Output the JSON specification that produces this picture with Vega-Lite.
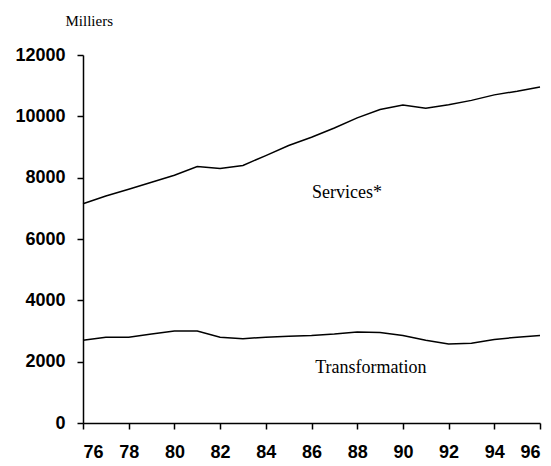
{
  "$schema": "https://vega.github.io/schema/vega-lite/v6.json",
  "width": 457,
  "height": 368,
  "autosize": "none",
  "padding": {"left": 83, "top": 55, "right": 11, "bottom": 43},
  "background": "white",
  "config": {"view": {"stroke": null}},
  "datasets": {
    "series": [
      {"annee": 76, "serie": "Services", "valeur": 7150},
      {"annee": 77, "serie": "Services", "valeur": 7400},
      {"annee": 78, "serie": "Services", "valeur": 7620},
      {"annee": 79, "serie": "Services", "valeur": 7850},
      {"annee": 80, "serie": "Services", "valeur": 8080},
      {"annee": 81, "serie": "Services", "valeur": 8360},
      {"annee": 82, "serie": "Services", "valeur": 8300},
      {"annee": 83, "serie": "Services", "valeur": 8400},
      {"annee": 84, "serie": "Services", "valeur": 8720},
      {"annee": 85, "serie": "Services", "valeur": 9050},
      {"annee": 86, "serie": "Services", "valeur": 9320},
      {"annee": 87, "serie": "Services", "valeur": 9620},
      {"annee": 88, "serie": "Services", "valeur": 9950},
      {"annee": 89, "serie": "Services", "valeur": 10220},
      {"annee": 90, "serie": "Services", "valeur": 10370},
      {"annee": 91, "serie": "Services", "valeur": 10260},
      {"annee": 92, "serie": "Services", "valeur": 10380},
      {"annee": 93, "serie": "Services", "valeur": 10520},
      {"annee": 94, "serie": "Services", "valeur": 10700},
      {"annee": 95, "serie": "Services", "valeur": 10820},
      {"annee": 96, "serie": "Services", "valeur": 10960},
      {"annee": 76, "serie": "Transformation", "valeur": 2700},
      {"annee": 77, "serie": "Transformation", "valeur": 2800},
      {"annee": 78, "serie": "Transformation", "valeur": 2800},
      {"annee": 79, "serie": "Transformation", "valeur": 2900},
      {"annee": 80, "serie": "Transformation", "valeur": 3000},
      {"annee": 81, "serie": "Transformation", "valeur": 3000},
      {"annee": 82, "serie": "Transformation", "valeur": 2800},
      {"annee": 83, "serie": "Transformation", "valeur": 2750},
      {"annee": 84, "serie": "Transformation", "valeur": 2800},
      {"annee": 85, "serie": "Transformation", "valeur": 2830},
      {"annee": 86, "serie": "Transformation", "valeur": 2850},
      {"annee": 87, "serie": "Transformation", "valeur": 2900},
      {"annee": 88, "serie": "Transformation", "valeur": 2970},
      {"annee": 89, "serie": "Transformation", "valeur": 2950},
      {"annee": 90, "serie": "Transformation", "valeur": 2850},
      {"annee": 91, "serie": "Transformation", "valeur": 2700},
      {"annee": 92, "serie": "Transformation", "valeur": 2580},
      {"annee": 93, "serie": "Transformation", "valeur": 2600},
      {"annee": 94, "serie": "Transformation", "valeur": 2720},
      {"annee": 95, "serie": "Transformation", "valeur": 2800},
      {"annee": 96, "serie": "Transformation", "valeur": 2850}
    ],
    "etiquettes": [
      {"annee": 87.55, "valeur": 7500, "texte": "Services*"},
      {"annee": 88.6, "valeur": 1800, "texte": "Transformation"}
    ]
  },
  "layer": [
    {
      "data": {"name": "series"},
      "mark": {"type": "line", "color": "black", "strokeWidth": 1.5},
      "encoding": {
        "x": {
          "field": "annee", "type": "quantitative",
          "scale": {"domain": [76, 96], "nice": false},
          "axis": {
            "title": null,
            "values": [76,77,78,79,80,81,82,83,84,85,86,87,88,89,90,91,92,93,94,95,96],
            "labelExpr": "datum.value % 2 == 0 ? datum.label : ''",
            "format": "d",
            "grid": false,
            "domainColor": "black",
            "domainWidth": 1.5,
            "tickColor": "black",
            "tickWidth": 1.5,
            "tickSize": 6,
            "labelFont": "Liberation Sans",
            "labelFontWeight": "bold",
            "labelFontSize": 18,
            "labelColor": "black",
            "labelPadding": 14
          }
        },
        "y": {
          "field": "valeur", "type": "quantitative",
          "scale": {"domain": [0, 12000], "nice": false},
          "axis": {
            "title": "Milliers",
            "titleAngle": 0,
            "titleX": -18,
            "titleY": -35,
            "titleAlign": "left",
            "titleBaseline": "middle",
            "titleFont": "Liberation Serif",
            "titleFontWeight": "normal",
            "titleFontSize": 15,
            "titleColor": "black",
            "values": [0, 2000, 4000, 6000, 8000, 10000, 12000],
            "format": "d",
            "grid": false,
            "domainColor": "black",
            "domainWidth": 1.5,
            "tickColor": "black",
            "tickWidth": 1.5,
            "tickSize": 6,
            "labelFont": "Liberation Sans",
            "labelFontWeight": "bold",
            "labelFontSize": 18,
            "labelColor": "black",
            "labelPadding": 12
          }
        },
        "detail": {"field": "serie"}
      }
    },
    {
      "data": {"name": "etiquettes"},
      "mark": {"type": "text", "font": "Liberation Serif", "fontSize": 18, "color": "black", "align": "center", "baseline": "middle"},
      "encoding": {
        "x": {"field": "annee", "type": "quantitative"},
        "y": {"field": "valeur", "type": "quantitative"},
        "text": {"field": "texte"}
      }
    }
  ]
}
